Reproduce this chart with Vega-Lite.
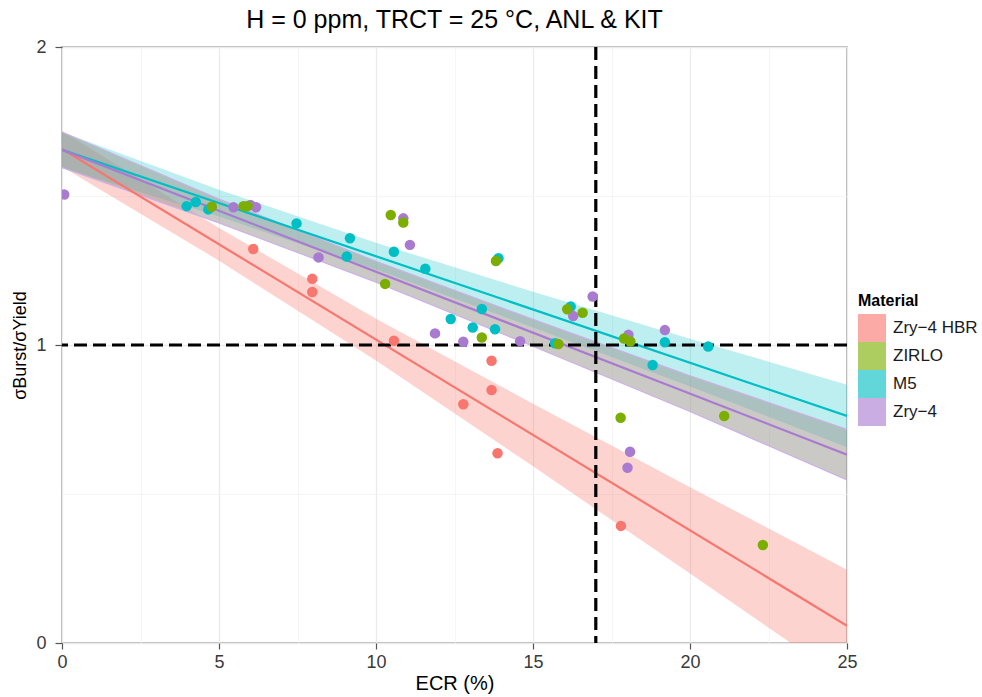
{
  "$schema": "https://vega.github.io/schema/vega-lite/v6.json",
  "width": 785,
  "height": 596,
  "autosize": {"type": "none"},
  "padding": {"left": 62, "top": 47, "right": 135, "bottom": 54},
  "background": "white",
  "title": {"text": "H = 0 ppm, TRCT = 25 °C, ANL & KIT", "fontSize": 25, "font": "Liberation Sans", "fontWeight": "normal", "color": "#000000", "anchor": "middle", "offset": 5},
  "datasets": {
    "bands": [
      {"Material": "Zry−4 HBR", "ECR": 0, "lo": 1.598, "hi": 1.718},
      {"Material": "Zry−4 HBR", "ECR": 5, "lo": 1.283, "hi": 1.393},
      {"Material": "Zry−4 HBR", "ECR": 10, "lo": 0.948, "hi": 1.088},
      {"Material": "Zry−4 HBR", "ECR": 15, "lo": 0.593, "hi": 0.803},
      {"Material": "Zry−4 HBR", "ECR": 20, "lo": 0.233, "hi": 0.523},
      {"Material": "Zry−4 HBR", "ECR": 25, "lo": -0.13, "hi": 0.246},
      {"Material": "M5", "ECR": 0, "lo": 1.595, "hi": 1.715},
      {"Material": "M5", "ECR": 5, "lo": 1.431, "hi": 1.521},
      {"Material": "M5", "ECR": 10, "lo": 1.253, "hi": 1.343},
      {"Material": "M5", "ECR": 15, "lo": 1.059, "hi": 1.179},
      {"Material": "M5", "ECR": 20, "lo": 0.861, "hi": 1.021},
      {"Material": "M5", "ECR": 25, "lo": 0.657, "hi": 0.867},
      {"Material": "Zry−4", "ECR": 0, "lo": 1.595, "hi": 1.715},
      {"Material": "Zry−4", "ECR": 5, "lo": 1.41, "hi": 1.49},
      {"Material": "Zry−4", "ECR": 10, "lo": 1.211, "hi": 1.281},
      {"Material": "Zry−4", "ECR": 15, "lo": 0.996, "hi": 1.086},
      {"Material": "Zry−4", "ECR": 20, "lo": 0.777, "hi": 0.897},
      {"Material": "Zry−4", "ECR": 25, "lo": 0.547, "hi": 0.717}
    ],
    "fits": [
      {"Material": "Zry−4 HBR", "ECR": 0, "ratio": 1.658},
      {"Material": "Zry−4 HBR", "ECR": 25, "ratio": 0.058},
      {"Material": "M5", "ECR": 0, "ratio": 1.655},
      {"Material": "M5", "ECR": 25, "ratio": 0.762},
      {"Material": "Zry−4", "ECR": 0, "ratio": 1.655},
      {"Material": "Zry−4", "ECR": 25, "ratio": 0.632}
    ],
    "points": [
      {"Material": "M5", "ECR": 3.97, "ratio": 1.466},
      {"Material": "M5", "ECR": 4.26, "ratio": 1.48},
      {"Material": "M5", "ECR": 4.66, "ratio": 1.455},
      {"Material": "M5", "ECR": 7.47, "ratio": 1.408},
      {"Material": "M5", "ECR": 9.17, "ratio": 1.358},
      {"Material": "M5", "ECR": 9.07, "ratio": 1.297},
      {"Material": "M5", "ECR": 10.57, "ratio": 1.313},
      {"Material": "M5", "ECR": 11.57, "ratio": 1.256},
      {"Material": "M5", "ECR": 13.9, "ratio": 1.291},
      {"Material": "M5", "ECR": 12.38, "ratio": 1.087},
      {"Material": "M5", "ECR": 13.37, "ratio": 1.121},
      {"Material": "M5", "ECR": 13.08, "ratio": 1.059},
      {"Material": "M5", "ECR": 13.79, "ratio": 1.053},
      {"Material": "M5", "ECR": 15.7, "ratio": 1.006},
      {"Material": "M5", "ECR": 16.2, "ratio": 1.129},
      {"Material": "M5", "ECR": 19.2, "ratio": 1.009},
      {"Material": "M5", "ECR": 20.58, "ratio": 0.995},
      {"Material": "M5", "ECR": 18.81, "ratio": 0.933},
      {"Material": "Zry−4", "ECR": 0.07, "ratio": 1.505},
      {"Material": "Zry−4", "ECR": 5.46, "ratio": 1.462},
      {"Material": "Zry−4", "ECR": 6.0, "ratio": 1.47},
      {"Material": "Zry−4", "ECR": 6.18, "ratio": 1.462},
      {"Material": "Zry−4", "ECR": 8.17, "ratio": 1.294},
      {"Material": "Zry−4", "ECR": 10.87, "ratio": 1.425},
      {"Material": "Zry−4", "ECR": 11.08, "ratio": 1.336},
      {"Material": "Zry−4", "ECR": 11.88, "ratio": 1.039},
      {"Material": "Zry−4", "ECR": 12.78, "ratio": 1.011},
      {"Material": "Zry−4", "ECR": 14.59, "ratio": 1.013},
      {"Material": "Zry−4", "ECR": 16.28, "ratio": 1.097},
      {"Material": "Zry−4", "ECR": 16.9, "ratio": 1.163},
      {"Material": "Zry−4", "ECR": 18.04, "ratio": 1.034},
      {"Material": "Zry−4", "ECR": 19.2, "ratio": 1.05},
      {"Material": "Zry−4", "ECR": 18.09, "ratio": 0.642},
      {"Material": "Zry−4", "ECR": 18.01, "ratio": 0.588},
      {"Material": "Zry−4 HBR", "ECR": 6.09, "ratio": 1.322},
      {"Material": "Zry−4 HBR", "ECR": 7.97, "ratio": 1.222},
      {"Material": "Zry−4 HBR", "ECR": 7.97, "ratio": 1.178},
      {"Material": "Zry−4 HBR", "ECR": 10.57, "ratio": 1.014},
      {"Material": "Zry−4 HBR", "ECR": 12.78, "ratio": 0.801},
      {"Material": "Zry−4 HBR", "ECR": 13.68, "ratio": 0.947},
      {"Material": "Zry−4 HBR", "ECR": 13.68, "ratio": 0.849},
      {"Material": "Zry−4 HBR", "ECR": 13.87, "ratio": 0.637},
      {"Material": "Zry−4 HBR", "ECR": 17.8, "ratio": 0.393},
      {"Material": "ZIRLO", "ECR": 4.77, "ratio": 1.464},
      {"Material": "ZIRLO", "ECR": 5.78, "ratio": 1.466},
      {"Material": "ZIRLO", "ECR": 5.91, "ratio": 1.466},
      {"Material": "ZIRLO", "ECR": 10.47, "ratio": 1.436},
      {"Material": "ZIRLO", "ECR": 10.87, "ratio": 1.411},
      {"Material": "ZIRLO", "ECR": 10.29, "ratio": 1.205},
      {"Material": "ZIRLO", "ECR": 13.82, "ratio": 1.282},
      {"Material": "ZIRLO", "ECR": 13.37, "ratio": 1.025},
      {"Material": "ZIRLO", "ECR": 15.81, "ratio": 1.003},
      {"Material": "ZIRLO", "ECR": 16.09, "ratio": 1.12},
      {"Material": "ZIRLO", "ECR": 16.58, "ratio": 1.108},
      {"Material": "ZIRLO", "ECR": 17.9, "ratio": 1.022},
      {"Material": "ZIRLO", "ECR": 18.1, "ratio": 1.012},
      {"Material": "ZIRLO", "ECR": 17.79, "ratio": 0.756},
      {"Material": "ZIRLO", "ECR": 21.09, "ratio": 0.762},
      {"Material": "ZIRLO", "ECR": 22.32, "ratio": 0.329}
    ]
  },
  "layer": [
    {
      "data": {"name": "bands"},
      "transform": [{"filter": "datum.Material === 'Zry−4 HBR'"}],
      "mark": {"type": "area", "color": "#F8766D", "opacity": 0.32, "clip": true},
      "encoding": {
        "x": {
          "field": "ECR", "type": "quantitative", "title": "ECR (%)",
          "scale": {"domain": [0, 25], "nice": false, "zero": false},
          "axis": {
            "values": [0, 2.5, 5, 7.5, 10, 12.5, 15, 17.5, 20, 22.5, 25],
            "labelExpr": "datum.value % 5 === 0 ? format(datum.value, 'd') : ''",
            "grid": true,
            "gridColor": {"condition": {"test": "datum.value % 5 !== 0", "value": "#F3F3F3"}, "value": "#EBEBEB"},
            "gridWidth": {"condition": {"test": "datum.value % 5 !== 0", "value": 0.8}, "value": 1.3},
            "tickOpacity": {"condition": {"test": "datum.value % 5 !== 0", "value": 0}, "value": 1},
            "tickColor": "#555555", "tickSize": 6, "tickWidth": 1.2,
            "domain": false, "labelFlush": false,
            "labelFont": "Liberation Sans", "labelFontSize": 18, "labelColor": "#3a3a3a", "labelPadding": 4,
            "titleFont": "Liberation Sans", "titleFontSize": 20, "titleFontWeight": "normal", "titleColor": "#000000", "titlePadding": 2
          }
        },
        "y": {
          "field": "lo", "type": "quantitative", "title": "σBurst/σYield",
          "scale": {"domain": [0, 2], "nice": false, "zero": false},
          "axis": {
            "values": [0, 0.5, 1, 1.5, 2],
            "labelExpr": "datum.value % 1 === 0 ? format(datum.value, 'd') : ''",
            "grid": true,
            "gridColor": {"condition": {"test": "datum.value % 1 !== 0", "value": "#F3F3F3"}, "value": "#EBEBEB"},
            "gridWidth": {"condition": {"test": "datum.value % 1 !== 0", "value": 0.8}, "value": 1.3},
            "tickOpacity": {"condition": {"test": "datum.value % 1 !== 0", "value": 0}, "value": 1},
            "tickColor": "#555555", "tickSize": 7, "tickWidth": 1.2,
            "domain": false, "labelFlush": false,
            "labelFont": "Liberation Sans", "labelFontSize": 18, "labelColor": "#3a3a3a", "labelPadding": 9,
            "titleFont": "Liberation Sans", "titleFontSize": 18, "titleFontWeight": "normal", "titleColor": "#000000", "titlePadding": 6
          }
        },
        "y2": {"field": "hi"}
      }
    },
    {
      "data": {"name": "bands"},
      "transform": [{"filter": "datum.Material === 'M5'"}],
      "mark": {"type": "area", "color": "#00BFC4", "opacity": 0.26, "clip": true},
      "encoding": {
        "x": {"field": "ECR", "type": "quantitative", "title": "ECR (%)"},
        "y": {"field": "lo", "type": "quantitative", "title": "σBurst/σYield"},
        "y2": {"field": "hi"}
      }
    },
    {
      "data": {"name": "bands"},
      "transform": [{"filter": "datum.Material === 'Zry−4'"}],
      "mark": {"type": "area", "color": "#9B9792", "opacity": 0.52, "clip": true},
      "encoding": {
        "x": {"field": "ECR", "type": "quantitative", "title": "ECR (%)"},
        "y": {"field": "lo", "type": "quantitative", "title": "σBurst/σYield"},
        "y2": {"field": "hi"}
      }
    },
    {
      "data": {"name": "bands"},
      "transform": [{"filter": "datum.Material === 'Zry−4'"}],
      "mark": {"type": "line", "color": "#CDB0E6", "strokeWidth": 1.2, "clip": true},
      "encoding": {
        "x": {"field": "ECR", "type": "quantitative", "title": "ECR (%)"},
        "y": {"field": "lo", "type": "quantitative", "title": "σBurst/σYield"}
      }
    },
    {
      "data": {"name": "bands"},
      "transform": [{"filter": "datum.Material === 'Zry−4'"}],
      "mark": {"type": "line", "color": "#CDB0E6", "strokeWidth": 1.2, "clip": true},
      "encoding": {
        "x": {"field": "ECR", "type": "quantitative", "title": "ECR (%)"},
        "y": {"field": "hi", "type": "quantitative", "title": "σBurst/σYield"}
      }
    },
    {
      "data": {"name": "fits"},
      "mark": {"type": "line", "strokeWidth": 2.2, "clip": true},
      "encoding": {
        "x": {"field": "ECR", "type": "quantitative", "title": "ECR (%)"},
        "y": {"field": "ratio", "type": "quantitative", "title": "σBurst/σYield"},
        "color": {
          "field": "Material", "type": "nominal", "title": "Material",
          "scale": {"domain": ["Zry−4 HBR", "ZIRLO", "M5", "Zry−4"], "range": ["#F8766D", "#7CAE00", "#00BFC4", "#A97BD0"]}
        }
      }
    },
    {
      "data": {"values": [{"ratio": 1}]},
      "mark": {"type": "rule", "color": "#000000", "strokeWidth": 3.2, "strokeDash": [13, 6]},
      "encoding": {
        "y": {"field": "ratio", "type": "quantitative", "title": "σBurst/σYield"}
      }
    },
    {
      "data": {"values": [{"ECR": 17}]},
      "mark": {"type": "rule", "color": "#000000", "strokeWidth": 3.2, "strokeDash": [13, 6]},
      "encoding": {
        "x": {"field": "ECR", "type": "quantitative", "title": "ECR (%)"}
      }
    },
    {
      "data": {"name": "points"},
      "mark": {"type": "point", "filled": true, "size": 110, "opacity": 1, "clip": true},
      "encoding": {
        "x": {"field": "ECR", "type": "quantitative", "title": "ECR (%)"},
        "y": {"field": "ratio", "type": "quantitative", "title": "σBurst/σYield"},
        "color": {
          "field": "Material", "type": "nominal", "title": "Material",
          "scale": {"domain": ["Zry−4 HBR", "ZIRLO", "M5", "Zry−4"], "range": ["#F8766D", "#7CAE00", "#00BFC4", "#A97BD0"]}
        }
      }
    }
  ],
  "resolve": {"legend": {"color": "shared"}},
  "config": {
    "view": {"stroke": "#A0A0A0", "strokeWidth": 1.5},
    "font": "Liberation Sans",
    "legend": {
      "orient": "none", "legendX": 796, "legendY": 246,
      "symbolType": "square", "symbolSize": 784, "symbolOpacity": 0.62, "symbolStrokeWidth": 0,
      "symbolFillColor": null,
      "rowPadding": 0, "labelOffset": 7, "titlePadding": 5,
      "labelFont": "Liberation Sans", "labelFontSize": 17, "labelColor": "#1a1a1a",
      "titleFont": "Liberation Sans", "titleFontSize": 16, "titleFontWeight": "bold", "titleColor": "#000000"
    }
  }
}
